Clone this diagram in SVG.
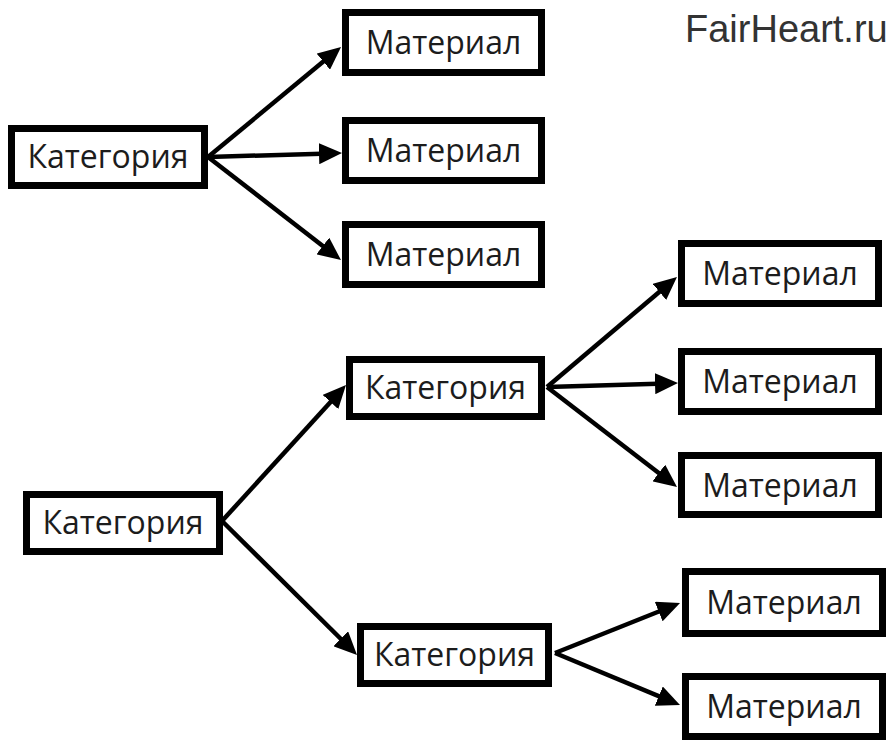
<svg xmlns="http://www.w3.org/2000/svg" width="890" height="742" viewBox="0 0 890 742">
  <style>
    .box { fill: #ffffff; stroke: #000000; stroke-width: 7; }
    .lbl { font-family: "Open Sans", "Noto Sans", "DejaVu Sans", sans-serif; font-size: 32px; fill: #1c1c1c; text-anchor: middle; }
    .wm { font-family: "Liberation Sans", Arial, sans-serif; font-size: 38px; fill: #333333; }
    .con { stroke: #000000; stroke-width: 4.5; fill: none; marker-end: url(#arr); }
  </style>
  <defs>
    <marker id="arr" markerUnits="userSpaceOnUse" markerWidth="23" markerHeight="21" viewBox="0 0 23 21" refX="11" refY="10.5" orient="auto">
      <path d="M0,0 L23,10.5 L0,21 z" fill="#000000"/>
    </marker>
  </defs>
  <rect width="890" height="742" fill="#ffffff"/>

  <text class="wm" x="685" y="42">FairHeart.ru</text>

  <g id="connectors">
    <line class="con" x1="208" y1="157" x2="331.8" y2="54.6"/>
    <line class="con" x1="208" y1="157" x2="330.0" y2="153.4"/>
    <line class="con" x1="208" y1="157" x2="331.5" y2="252.7"/>
    <line class="con" x1="222" y1="521" x2="337.9" y2="393.9"/>
    <line class="con" x1="222" y1="521" x2="348.5" y2="646.5"/>
    <line class="con" x1="547" y1="387" x2="667.8" y2="284.8"/>
    <line class="con" x1="547" y1="387" x2="666.0" y2="383.4"/>
    <line class="con" x1="547" y1="387" x2="667.5" y2="479.7"/>
    <line class="con" x1="555" y1="653" x2="668.9" y2="607.5"/>
    <line class="con" x1="555" y1="653" x2="668.9" y2="700.4"/>
  </g>

  <g id="cat1"><rect class="box" x="11.5" y="128.5" width="193" height="57"/><text class="lbl" x="108" y="168">Категория</text></g>
  <g id="mat1"><rect class="box" x="345.5" y="12.5" width="196" height="60"/><text class="lbl" x="443.5" y="54">Материал</text></g>
  <g id="mat2"><rect class="box" x="345.5" y="120.5" width="196" height="60"/><text class="lbl" x="443.5" y="162">Материал</text></g>
  <g id="mat3"><rect class="box" x="345.5" y="224.5" width="196" height="60"/><text class="lbl" x="443.5" y="266">Материал</text></g>

  <g id="cat2"><rect class="box" x="26.5" y="494.5" width="193" height="57"/><text class="lbl" x="123" y="534">Категория</text></g>
  <g id="cat3"><rect class="box" x="349.5" y="359.5" width="192" height="57"/><text class="lbl" x="445.5" y="399">Категория</text></g>
  <g id="cat4"><rect class="box" x="360.5" y="626.5" width="188" height="57"/><text class="lbl" x="454.5" y="666">Категория</text></g>

  <g id="mat4"><rect class="box" x="681.5" y="243.5" width="197" height="60"/><text class="lbl" x="780" y="285">Материал</text></g>
  <g id="mat5"><rect class="box" x="681.5" y="351.5" width="197" height="60"/><text class="lbl" x="780" y="393">Материал</text></g>
  <g id="mat6"><rect class="box" x="681.5" y="455.5" width="197" height="59"/><text class="lbl" x="780" y="497">Материал</text></g>
  <g id="mat7"><rect class="box" x="685.5" y="571.5" width="197" height="62"/><text class="lbl" x="784" y="614">Материал</text></g>
  <g id="mat8"><rect class="box" x="685.5" y="676.5" width="197" height="60"/><text class="lbl" x="784" y="718">Материал</text></g>
</svg>
